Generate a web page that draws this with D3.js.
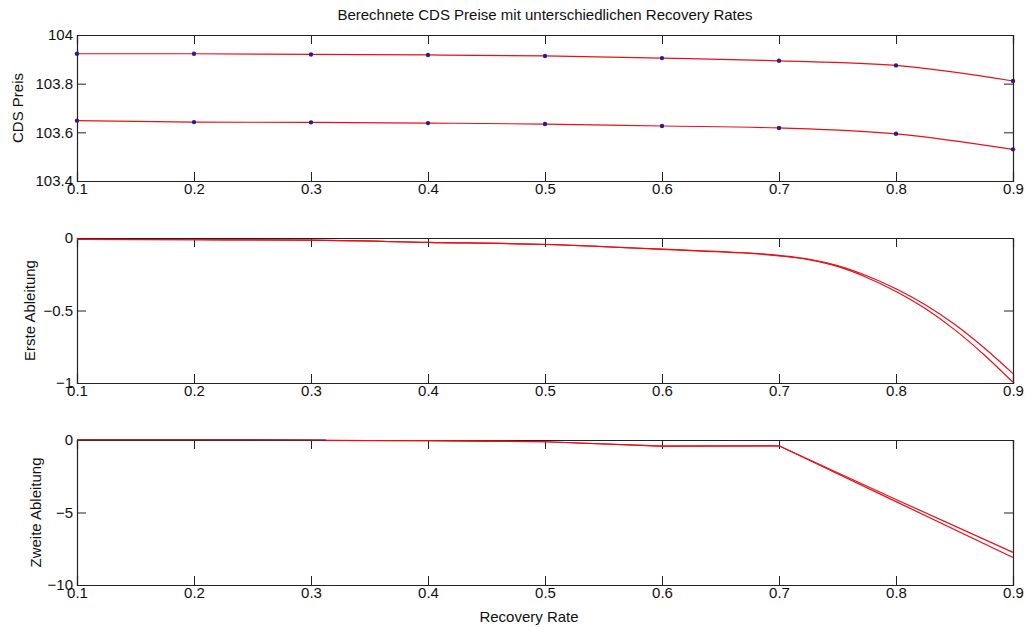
<!DOCTYPE html>
<html>
<head>
<meta charset="utf-8">
<script src="https://cdn.jsdelivr.net/npm/d3@7"></script>
<style>
  body { margin: 0; background: #fff; }
  text { font-family: "Liberation Sans", Arial, sans-serif; fill: #111; }
  .tick-label { font-size: 15px; }
  .axis-label { font-size: 15px; }
  .title { font-size: 15px; }
</style>
</head>
<body>
<script>
// DATA
const recoveryRates = [0.1, 0.2, 0.3, 0.4, 0.5, 0.6, 0.7, 0.8, 0.9];
const cdsPreisHoch = [103.923, 103.923, 103.920, 103.918, 103.914, 103.905, 103.894, 103.875, 103.811];
const cdsPreisTief = [103.648, 103.642, 103.641, 103.638, 103.634, 103.626, 103.618, 103.594, 103.530];

const ableitungX = [0.1, 0.2, 0.3, 0.4, 0.5, 0.6, 0.7, 0.725, 0.75, 0.775, 0.8, 0.825, 0.85, 0.875, 0.9];
const ersteAbleitungA = [-0.01, -0.012, -0.015, -0.03, -0.044, -0.077, -0.12, -0.145, -0.19, -0.26, -0.35, -0.46, -0.595, -0.755, -0.935];
const ersteAbleitungB = [-0.01, -0.012, -0.015, -0.03, -0.045, -0.079, -0.123, -0.149, -0.196, -0.272, -0.369, -0.487, -0.632, -0.803, -0.995];

const zweiteAbleitungA = [0, 0, -0.02, -0.05, -0.12, -0.42, -0.4, -4.1, -7.75];
const zweiteAbleitungB = [0, 0, -0.02, -0.05, -0.12, -0.42, -0.4, -4.25, -8.1];

const xTicks = [0.1, 0.2, 0.3, 0.4, 0.5, 0.6, 0.7, 0.8, 0.9];
const yTicksPreis = [103.4, 103.6, 103.8, 104];
const yTicksErste = [-1, -0.5, 0];
const yTicksZweite = [-10, -5, 0];

// 1: SVG
const width = 1026, height = 627;
const plotLeft = 77, plotRight = 1013;

const svg = d3.select("body")
    .append("svg")
    .attr("width", width)
    .attr("height", height);

const x = d3.scaleLinear().domain([0.1, 0.9]).range([plotLeft, plotRight]);

// draws one subplot box with inward ticks on all four sides (MATLAB style)
function drawPanel(top, bottom, yDomain, yTicks, yLabel, labelX) {
    const y = d3.scaleLinear().domain(yDomain).range([bottom, top]);
    const g = svg.append("g");
    const tickLen = 9;

    // bottom axis with labels
    g.append("g")
        .attr("transform", `translate(0,${bottom})`)
        .call(d3.axisBottom(x).tickValues(xTicks).tickSize(-tickLen).tickPadding(2).tickFormat(d3.format("")))
        .call(a => a.selectAll("text").attr("class", "tick-label").attr("dy", "0.75em"));
    // top axis ticks only
    g.append("g")
        .attr("transform", `translate(0,${top})`)
        .call(d3.axisTop(x).tickValues(xTicks).tickSize(-tickLen).tickFormat(""));
    // left axis with labels
    g.append("g")
        .attr("transform", `translate(${plotLeft},0)`)
        .call(d3.axisLeft(y).tickValues(yTicks).tickSize(-tickLen).tickPadding(4).tickFormat(d3.format("")))
        .call(a => a.selectAll("text").attr("class", "tick-label"));
    // right axis ticks only
    g.append("g")
        .attr("transform", `translate(${plotRight},0)`)
        .call(d3.axisRight(y).tickValues(yTicks).tickSize(-tickLen).tickFormat(""));

    g.selectAll(".domain").attr("stroke", "#222").attr("stroke-width", 1.2);
    g.selectAll(".tick line").attr("stroke", "#222");
    g.selectAll("text").style("font-family", null).attr("fill", "#111");

    // y label
    svg.append("text")
        .attr("class", "axis-label")
        .attr("transform", `translate(${labelX},${(top + bottom) / 2}) rotate(-90)`)
        .attr("text-anchor", "middle")
        .text(yLabel);

    return y;
}

// 2: PANEL 1 - CDS Preise
const y1 = drawPanel(35, 181, [103.4, 104], yTicksPreis, "CDS Preis", 23);
const line1 = d3.line().x((d, i) => x(recoveryRates[i])).y(d => y1(d)).curve(d3.curveMonotoneX);

[cdsPreisHoch, cdsPreisTief].forEach(series => {
    svg.append("path")
        .datum(series)
        .attr("fill", "none")
        .attr("stroke", "#e8101a")
        .attr("stroke-width", 1.2)
        .attr("d", line1);

    svg.append("g").selectAll("circle")
        .data(series)
        .enter()
        .append("circle")
        .attr("cx", (d, i) => x(recoveryRates[i]))
        .attr("cy", d => y1(d))
        .attr("r", 2.2)
        .attr("fill", "#2a1f8a");
});

// 3: PANEL 2 - Erste Ableitung
const y2 = drawPanel(238, 383, [-1, 0], yTicksErste, "Erste Ableitung", 35);
const line2 = d3.line().x((d, i) => x(ableitungX[i])).y(d => y2(d)).curve(d3.curveMonotoneX);

[ersteAbleitungA, ersteAbleitungB].forEach(series => {
    svg.append("path")
        .datum(series)
        .attr("fill", "none")
        .attr("stroke", "#e8101a")
        .attr("stroke-width", 1.2)
        .attr("d", line2);
});

// 4: PANEL 3 - Zweite Ableitung
const y3 = drawPanel(440, 585, [-10, 0], yTicksZweite, "Zweite Ableitung", 41);
const line3 = d3.line().x((d, i) => x(recoveryRates[i])).y(d => y3(d));

[zweiteAbleitungA, zweiteAbleitungB].forEach(series => {
    svg.append("path")
        .datum(series)
        .attr("fill", "none")
        .attr("stroke", "#e8101a")
        .attr("stroke-width", 1.2)
        .attr("d", line3);
});

// redraw the top border of panel 3 over the curves (line sits on y = 0)
svg.append("line")
    .attr("x1", plotLeft).attr("x2", 326)
    .attr("y1", 440).attr("y2", 440)
    .attr("stroke", "#222").attr("stroke-width", 1.2);

// 5: TITLE AND X LABEL
svg.append("text")
    .attr("class", "title")
    .attr("x", (plotLeft + plotRight) / 2)
    .attr("y", 20)
    .attr("text-anchor", "middle")
    .text("Berechnete CDS Preise mit unterschiedlichen Recovery Rates");

svg.append("text")
    .attr("class", "axis-label")
    .attr("x", 529)
    .attr("y", 622)
    .attr("text-anchor", "middle")
    .text("Recovery Rate");
</script>
</body>
</html>
